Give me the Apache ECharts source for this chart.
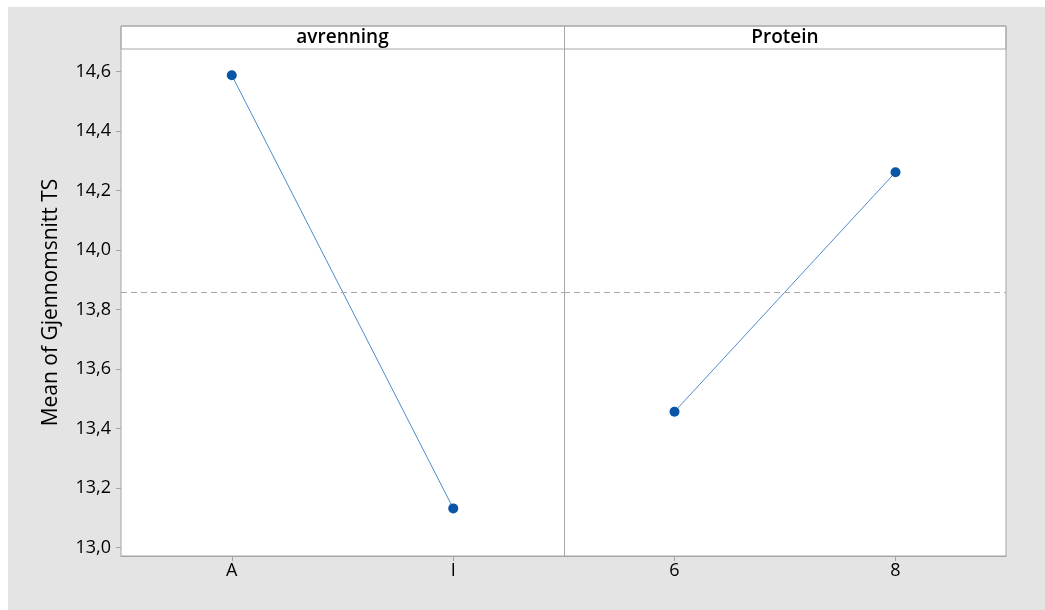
<!DOCTYPE html>
<html>
<head>
<meta charset="utf-8">
<title>Main Effects Plot</title>
<script src="https://cdn.jsdelivr.net/npm/echarts@6/dist/echarts.min.js"></script>
<style>
  html, body { margin: 0; padding: 0; background: #ffffff; }
  #chart { width: 1045px; height: 610px; }
</style>
</head>
<body>
<div id="chart"></div>
<script>
// Factor levels and their fitted means
const avrenningLevels = ['A', 'I'];
const avrenningMeans = [14.588, 13.132];
const proteinLevels = ['6', '8'];
const proteinMeans = [13.457, 14.262];

// Grand mean (dashed reference line) and panel titles
const grandMean = 13.86;
const panelTitles = ['avrenning', 'Protein'];
const yTickValues = [13.0, 13.2, 13.4, 13.6, 13.8, 14.0, 14.2, 14.4, 14.6];
const yTitle = 'Mean of Gjennomsnitt TS';

const FONT = '"Open Sans", "Noto Sans", sans-serif';
const FRAME = '#a6a6a6';
const Y_MIN = 12.972, Y_MAX = 14.676;

const fmt = v => v.toFixed(1).replace('.', ',');

const chart = echarts.init(document.getElementById('chart'), null, { renderer: 'canvas' });

const baseX = {
  type: 'category',
  boundaryGap: true,
  axisLine: { show: true, lineStyle: { color: FRAME, width: 1 } },
  axisTick: { show: true, alignWithLabel: true, length: 5, lineStyle: { color: FRAME } },
  axisLabel: { color: '#000', fontSize: 18, fontFamily: FONT, margin: 6 },
  splitLine: { show: false }
};

const meanLine = {
  silent: true,
  symbol: 'none',
  label: { show: false },
  lineStyle: { color: '#a8a8a8', type: [6, 4], width: 1 },
  data: [{ yAxis: grandMean }]
};

const lineSeries = (idx, data) => ({
  type: 'line',
  xAxisIndex: idx,
  yAxisIndex: idx,
  data: data,
  symbol: 'circle',
  symbolSize: 10,
  itemStyle: { color: '#0a55a6' },
  lineStyle: { color: '#4f8bcb', width: 1 },
  markLine: meanLine,
  z: 3
});

chart.setOption({
  backgroundColor: '#ffffff',
  animation: false,
  graphic: [
    // outer panel background
    { type: 'rect', z: -10, shape: { x: 8, y: 7, width: 1037, height: 603 }, style: { fill: '#e4e4e4' } },
    // header strip and outer frame
    { type: 'rect', z: 5, shape: { x: 121, y: 26, width: 885, height: 23 }, style: { fill: '#ffffff', stroke: FRAME, lineWidth: 1 } },
    { type: 'rect', z: 5, silent: true, shape: { x: 121, y: 26, width: 885, height: 530 }, style: { fill: null, stroke: FRAME, lineWidth: 1 } },
    // divider between the two factor panels
    { type: 'line', z: 6, shape: { x1: 564.5, y1: 26, x2: 564.5, y2: 556 }, style: { stroke: FRAME, lineWidth: 1 } },
    { type: 'text', z: 7, x: 342.5, y: 37.5, style: { text: panelTitles[0], font: '600 19px ' + FONT, fill: '#000', align: 'center', verticalAlign: 'middle' } },
    { type: 'text', z: 7, x: 785, y: 37.5, style: { text: panelTitles[1], font: '600 19px ' + FONT, fill: '#000', align: 'center', verticalAlign: 'middle' } }
  ],
  grid: [
    { left: 121, right: 481, top: 49, bottom: 54, show: true, backgroundColor: '#ffffff', borderWidth: 0 },
    { left: 564, right: 39, top: 49, bottom: 54, show: true, backgroundColor: '#ffffff', borderWidth: 0 }
  ],
  xAxis: [
    Object.assign({}, baseX, { gridIndex: 0, data: avrenningLevels }),
    Object.assign({}, baseX, { gridIndex: 1, data: proteinLevels })
  ],
  yAxis: [
    {
      type: 'value', gridIndex: 0, min: Y_MIN, max: Y_MAX,
      name: yTitle, nameLocation: 'middle', nameGap: 59, nameRotate: 90,
      nameTextStyle: { color: '#000', fontSize: 21, fontFamily: FONT },
      axisLine: { show: false },
      axisTick: { show: true, length: 5, customValues: yTickValues, lineStyle: { color: FRAME } },
      axisLabel: { color: '#000', fontSize: 18, fontFamily: FONT, margin: 10, customValues: yTickValues, formatter: fmt },
      splitLine: { show: false }
    },
    {
      type: 'value', gridIndex: 1, min: Y_MIN, max: Y_MAX,
      axisLine: { show: false }, axisTick: { show: false }, axisLabel: { show: false }, splitLine: { show: false }
    }
  ],
  series: [
    lineSeries(0, avrenningMeans),
    lineSeries(1, proteinMeans)
  ]
});
</script>
</body>
</html>
